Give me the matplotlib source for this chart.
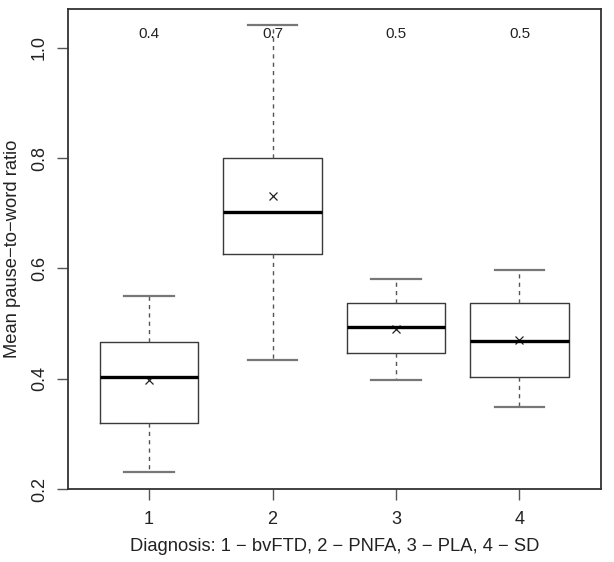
import numpy as np
import matplotlib.pyplot as plt

plt.rcParams['font.family'] = ['Liberation Sans', 'DejaVu Sans']

# box statistics
groups = [1, 2, 3, 4]
whislo = [0.231, 0.434, 0.398, 0.348]
q1 = [0.319, 0.626, 0.446, 0.404]
med = [0.403, 0.702, 0.494, 0.469]
q3 = [0.467, 0.801, 0.538, 0.538]
whishi = [0.550, 1.041, 0.580, 0.598]
means = [0.398, 0.732, 0.490, 0.471]
top_labels = ['0.4', '0.7', '0.5', '0.5']

stats = []
for i in range(len(groups)):
    stats.append(dict(whislo=whislo[i], q1=q1[i], med=med[i], q3=q3[i],
                      whishi=whishi[i], fliers=[]))

fig = plt.figure(figsize=(6.14, 5.62), dpi=100)
ax = fig.add_axes([67.5/614, 1-489/562, (601-67.5)/614, (489-8.5)/562])

ax.bxp(stats, positions=groups, widths=0.8, showfliers=False,
       boxprops=dict(color='#3a3a3a', linewidth=1.0),
       whiskerprops=dict(color='#555555', linewidth=1.0, linestyle=(0, (3, 3))),
       capprops=dict(color='#777777', linewidth=1.6),
       medianprops=dict(color='black', linewidth=2.4),
       capwidths=0.4)

ax.plot(groups, means, linestyle='none', marker='x', color='#222222',
        markersize=6, markeredgewidth=0.9)

for g, t in zip(groups, top_labels):
    ax.text(g, 1.025, t, ha='center', va='center', fontsize=11, color='#222222')

ax.set_xlim(0.34, 4.66)
ax.set_ylim(0.2, 1.0715)
ax.set_xticks(groups)
ax.set_xticklabels([str(g) for g in groups])
ax.set_yticks([0.2, 0.4, 0.6, 0.8, 1.0])
ax.set_yticklabels(['0.2', '0.4', '0.6', '0.8', '1.0'], rotation=90, va='center')

for s in ax.spines.values():
    s.set_color('#333333')
    s.set_linewidth(1.3)

ax.tick_params(axis='both', direction='out', length=8, width=1.0,
               color='#555555', labelsize=13, labelcolor='#222222', pad=8)
ax.tick_params(axis='y', pad=6)

ax.set_xlabel('Diagnosis: 1 \u2212 bvFTD, 2 \u2212 PNFA, 3 \u2212 PLA, 4 \u2212 SD',
              fontsize=13.2, color='#222222', labelpad=7)
ax.set_ylabel('Mean pause\u2212to\u2212word ratio', fontsize=13.2,
              color='#222222', labelpad=7)

fig.savefig('out.png', dpi=100)
